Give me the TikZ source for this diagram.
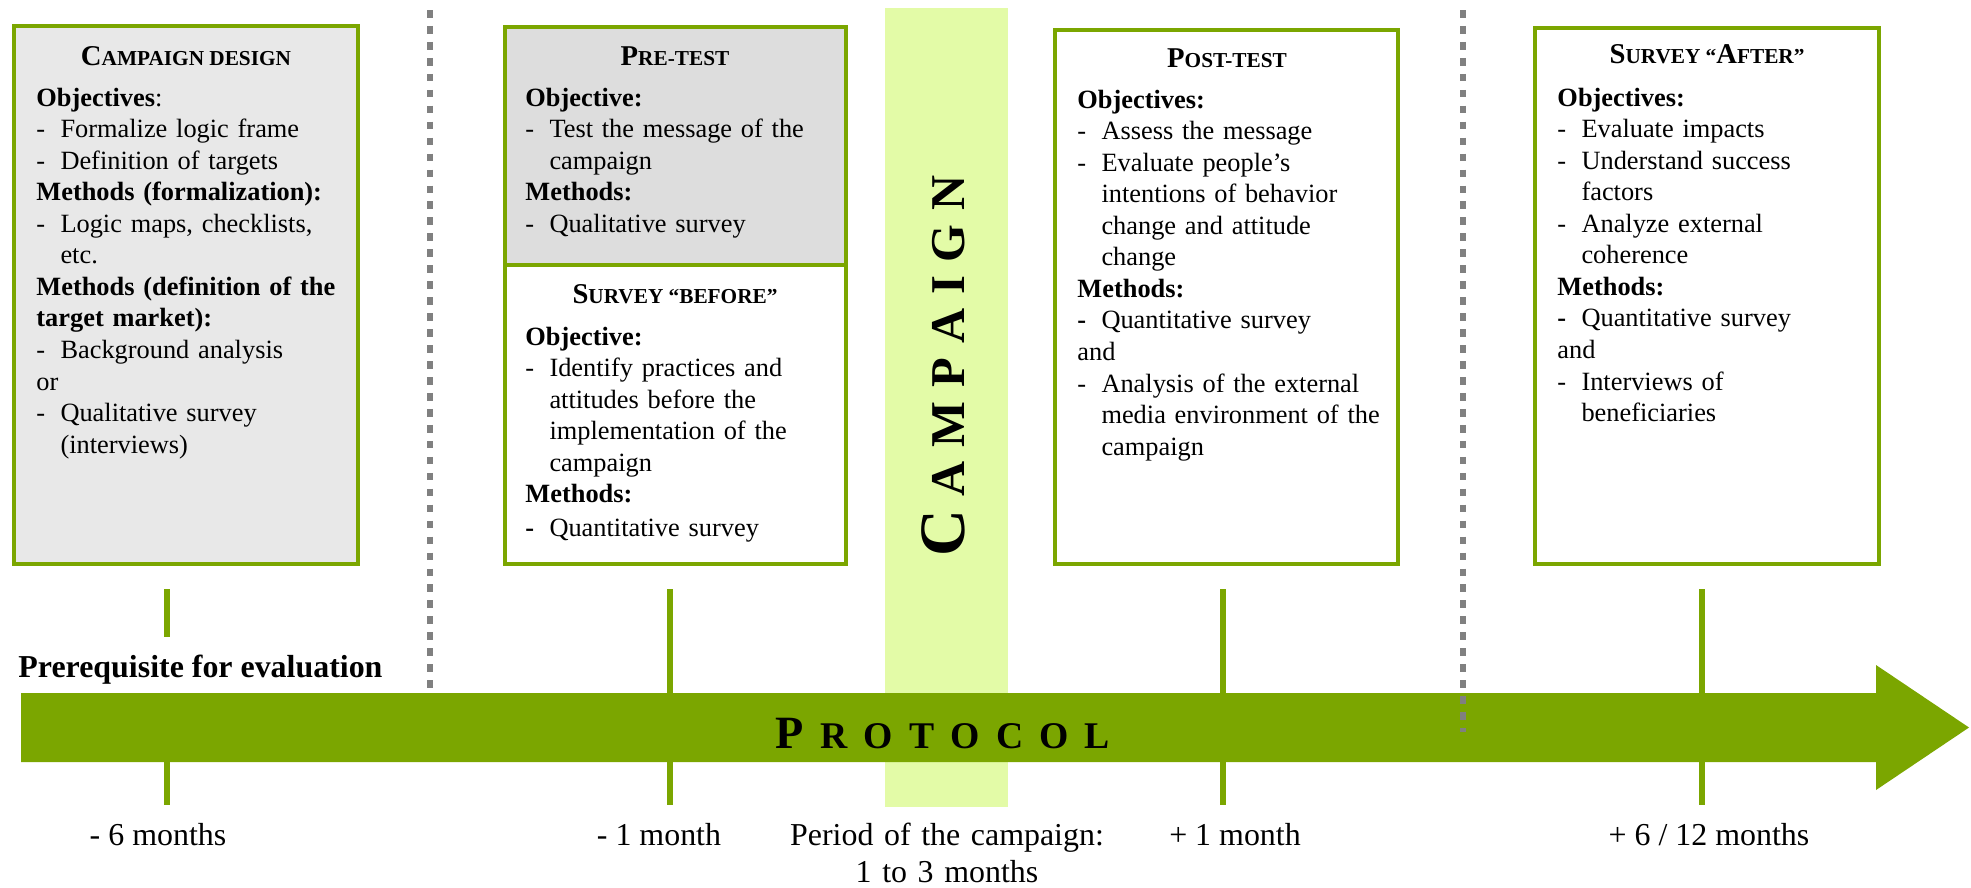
\documentclass[tikz,border=0pt]{standalone}
\usepackage{fontspec}
\setmainfont{Liberation Serif}
\usetikzlibrary{positioning}

\definecolor{protgreen}{HTML}{7BA600}
\definecolor{bandgreen}{HTML}{E3FBA7}
\definecolor{designgray}{HTML}{E8E8E8}
\definecolor{pregray}{HTML}{DDDDDD}
\definecolor{sepgray}{HTML}{808080}

\newcommand{\capletter}[1]{{\fontsize{12.4}{14}\selectfont #1}}
\newcommand{\itemdash}{\makebox[10.4pt][l]{-}}
\newcommand{\bolddash}{\makebox[10.4pt][l]{\bfseries -}}
\newcommand{\contline}{\hspace*{10.4pt}}
\newcommand{\letgap}{\hspace{6pt}}

\begin{document}
\begin{tikzpicture}[x=0.0152cm, y=-0.0152cm,
  stage/.style={draw=protgreen, line width=1.6pt},
  head/.style={anchor=base, inner sep=0pt, font=\fontsize{9.2}{11}\selectfont\bfseries},
  body/.style={anchor=base west, inner sep=0pt, text width=150pt, align=left,
    font=\fontsize{11.4}{13.65}\selectfont},
  tick/.style={protgreen, line width=2.6pt},
  sep/.style={sepgray, line width=3pt, dash pattern=on 3.3pt off 3.6pt},
  when/.style={anchor=base, inner sep=0pt, font=\fontsize{13.8}{16}\selectfont}]
  \useasboundingbox (0,0) rectangle (1971,887);
  % campaign period
  \fill[bandgreen] (885,8) rectangle (1008,807);
  \node[rotate=90, anchor=base, inner sep=0pt, font=\bfseries\fontsize{21}{21}\selectfont]
    (campaign) at (964,366)
    {{\fontsize{28}{28}\selectfont C}\letgap A\letgap M\letgap P\letgap A\letgap I\letgap G\letgap N};
  % time axis
  \fill[protgreen] (21,693) -- (1876,693) -- (1876,665) -- (1969,727.5)
    -- (1876,790) -- (1876,762) -- (21,762) -- cycle;
  \node[anchor=base, inner sep=0pt, font=\bfseries\fontsize{16.3}{18}\selectfont]
    (protocol) at (943,748)
    {{\fontsize{20}{20}\selectfont P}\hspace{7pt}R\hspace{7pt}O\hspace{7pt}T\hspace{7pt}O\hspace{7pt}C\hspace{7pt}O\hspace{7pt}L};
  \node[anchor=base west, inner sep=0pt, font=\bfseries\fontsize{13.8}{16}\selectfont]
    (prereq) at (18,677) {Prerequisite for evaluation};
  % ticks
  \draw[tick] (167,589) -- (167,637);
  \foreach \tx in {670,1223,1702}
    \draw[tick] (\tx,589) -- (\tx,693);
  \foreach \tx in {167,670,1223,1702}
    \draw[tick] (\tx,762) -- (\tx,805);
  % separators
  \draw[sep] (430,10) -- (430,688);
  \draw[sep] (1463,10) -- (1463,732);
  % stage boxes
  \draw[stage, fill=designgray] (14,26) rectangle (358,564);
  \draw[stage, fill=pregray] (505,27) rectangle (846,265);
  \draw[stage, fill=white] (505,265) rectangle (846,564);
  \draw[stage, fill=white] (1055,30) rectangle (1398,564);
  \draw[stage, fill=white] (1535,28) rectangle (1879,564);
  % design
  \node[head] (designhead) at (186,65) {\capletter{C}AMPAIGN DESIGN};
  \node[body] (designbody) at (36,106) {%
    \textbf{Objectives}:\\
    \itemdash Formalize logic frame\\
    \itemdash Definition of targets\\
    \textbf{Methods (formalization):}\\
    \itemdash Logic maps, checklists,\\
    \contline etc.\\
    \textbf{Methods (definition of the}\\
    \textbf{target market):}\\
    \itemdash Background analysis\\
    or\\
    \itemdash Qualitative survey\\
    \contline (interviews)};
  % pre-test
  \node[head] (prehead) at (675,65) {\capletter{P}RE-TEST};
  \node[body] (prebody) at (525,106) {%
    \textbf{Objective:}\\
    \itemdash Test the message of the\\
    \contline campaign\\
    \textbf{Methods:}\\
    \itemdash Qualitative survey};
  % survey before
  \node[head] (beforehead) at (675,303) {\capletter{S}URVEY “BEFORE”};
  \node[body] (beforebody) at (525,345) {%
    \textbf{Objective:}\\
    \itemdash Identify practices and\\
    \contline attitudes before the\\
    \contline implementation of the\\
    \contline campaign\\
    \textbf{Methods:}\\[1pt]
    \bolddash Quantitative survey};
  % post-test
  \node[head] (posthead) at (1227,67) {\capletter{P}OST-TEST};
  \node[body] (postbody) at (1077,108) {%
    \textbf{Objectives:}\\
    \itemdash Assess the message\\
    \itemdash Evaluate people’s\\
    \contline intentions of behavior\\
    \contline change and attitude\\
    \contline change\\
    \textbf{Methods:}\\
    \bolddash Quantitative survey\\
    and\\
    \itemdash Analysis of the external\\
    \contline media environment of the\\
    \contline campaign};
  % survey after
  \node[head] (afterhead) at (1707,63) {\capletter{S}URVEY “\capletter{A}FTER”};
  \node[body] (afterbody) at (1557,106) {%
    \textbf{Objectives:}\\
    \itemdash Evaluate impacts\\
    \itemdash Understand success\\
    \contline factors\\
    \itemdash Analyze external\\
    \contline coherence\\
    \textbf{Methods:}\\
    \bolddash Quantitative survey\\
    and\\
    \itemdash Interviews of\\
    \contline beneficiaries};
  % time labels
  \node[when] (m6) at (158,845) {- 6 months};
  \node[when] (m1) at (659,845) {- 1 month};
  \node[when, text width=180pt, align=center] (period) at (947,845)
    {Period of the campaign:\\ 1 to 3 months};
  \node[when] (p1) at (1235,845) {+ 1 month};
  \node[when] (p612) at (1709,845) {+ 6 / 12 months};
\end{tikzpicture}
\end{document}
